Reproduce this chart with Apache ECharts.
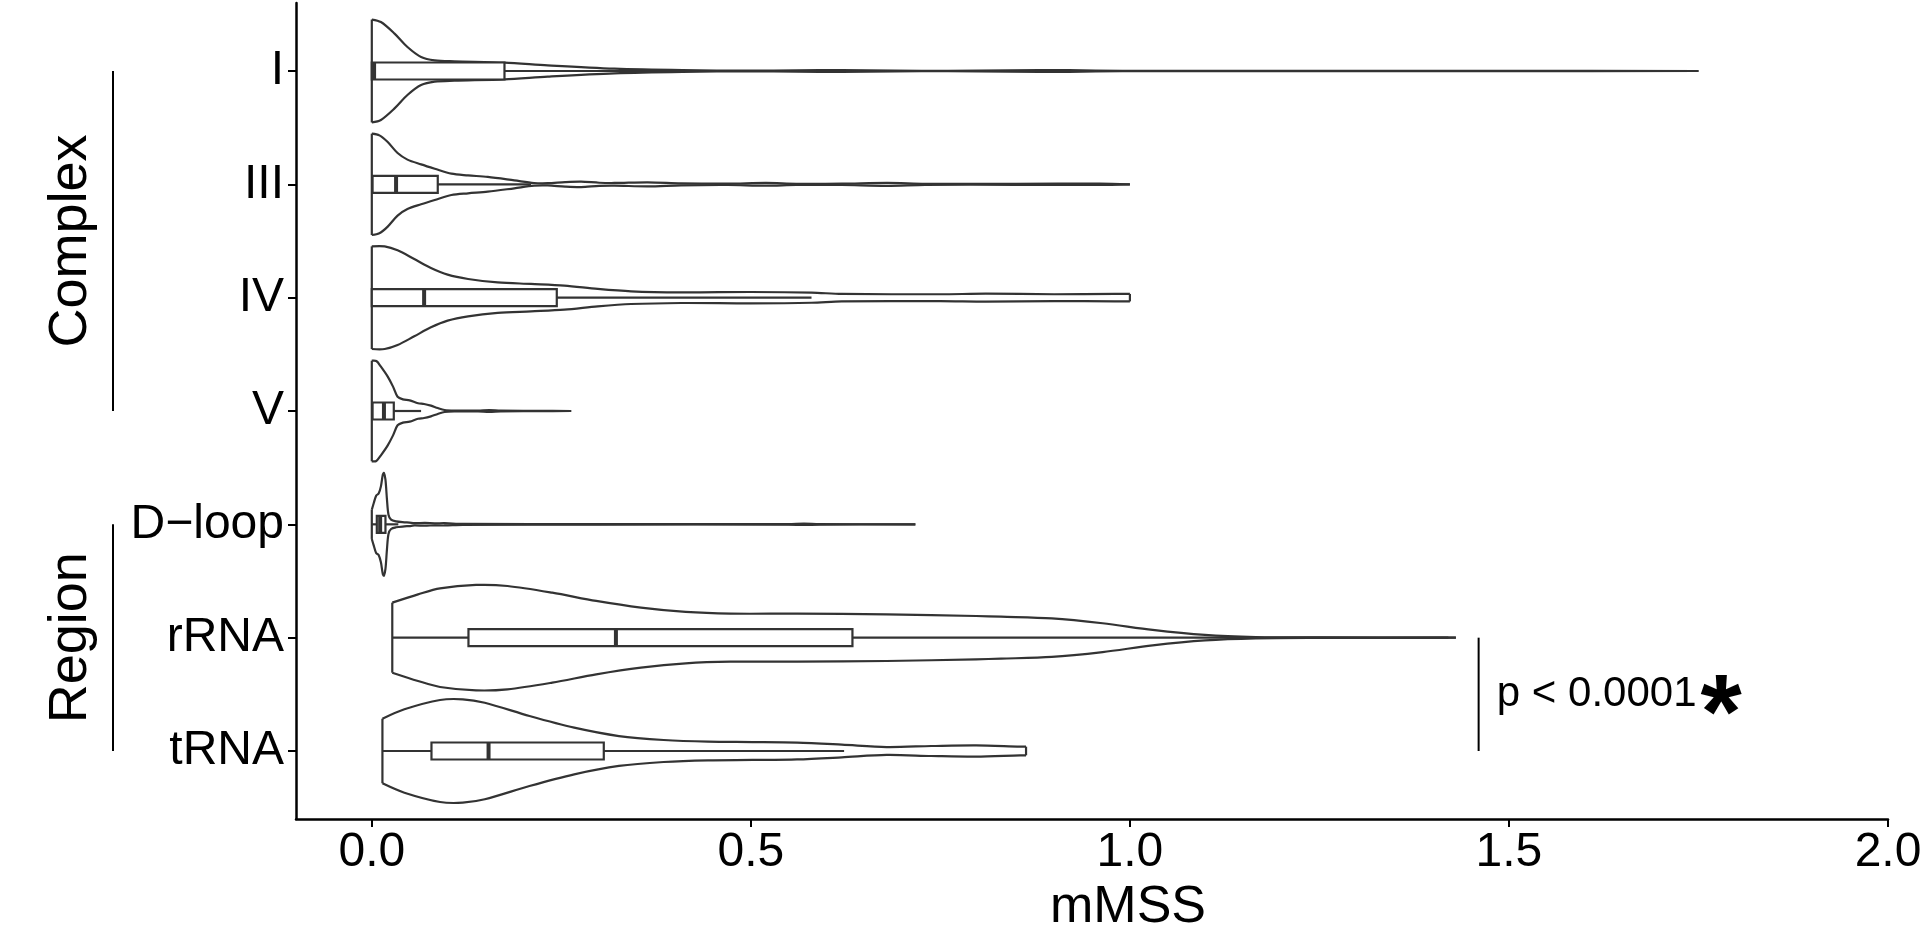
<!DOCTYPE html>
<html><head><meta charset="utf-8">
<script src="https://cdn.jsdelivr.net/npm/echarts@6/dist/echarts.min.js"></script>
<style>html,body{margin:0;padding:0;background:#fff}#main{width:1928px;height:929px}</style>
</head><body><div id="main"></div>
<script>
// ---------- data ----------
const categories = ['I', 'III', 'IV', 'V', 'D\u2212loop', 'rRNA', 'tRNA'];
const xTicks = [0, 0.5, 1, 1.5, 2];

// boxplot statistics per category (same order as categories)
const boxMin    = [0.000, 0.000, 0.000, 0.000, 0.000, 0.027, 0.014];
const boxQ1     = [0.000, 0.001, 0.000, 0.001, 0.0066, 0.1275, 0.0787];
const boxMedian = [0.003, 0.032, 0.069, 0.016, 0.011, 0.322, 0.154];
const boxQ3     = [0.175, 0.087, 0.244, 0.029, 0.018, 0.634, 0.306];
const boxMax    = [0.430, 0.210, 0.580, 0.065, 0.035, 1.420, 0.623];

// violin profiles: [mMSS value, half width in category units]
const violinI = [[0.000,0.454],[0.012,0.432],[0.030,0.330],[0.047,0.212],[0.065,0.124],[0.083,0.094],[0.109,0.086],[0.175,0.074],[0.232,0.050],[0.320,0.021],[0.410,0.008],[0.500,0.003],[0.560,0.006],[0.620,0.007],[0.690,0.003],[0.760,0.002],[0.840,0.006],[0.920,0.007],[0.990,0.002],[1.200,0.0015],[1.500,0.001],[1.750,0.000]];
const violinIII = [[0.000,0.447],[0.010,0.432],[0.021,0.373],[0.034,0.276],[0.047,0.218],[0.065,0.176],[0.083,0.138],[0.105,0.094],[0.127,0.079],[0.153,0.065],[0.188,0.035],[0.214,0.012],[0.232,0.010],[0.255,0.020],[0.276,0.024],[0.300,0.014],[0.320,0.012],[0.364,0.018],[0.408,0.009],[0.470,0.006],[0.520,0.012],[0.560,0.005],[0.620,0.006],[0.680,0.013],[0.730,0.005],[0.850,0.004],[0.960,0.006],[1.000,0.000]];
const violinIV = [[0.000,0.453],[0.017,0.453],[0.034,0.418],[0.056,0.341],[0.078,0.262],[0.100,0.203],[0.127,0.165],[0.166,0.135],[0.210,0.121],[0.254,0.106],[0.298,0.077],[0.342,0.056],[0.408,0.047],[0.500,0.050],[0.580,0.045],[0.620,0.033],[0.750,0.030],[0.810,0.035],[0.900,0.030],[0.980,0.033],[1.000,0.033]];
const violinV = [[0.000,0.444],[0.006,0.441],[0.012,0.391],[0.021,0.303],[0.028,0.215],[0.034,0.126],[0.041,0.103],[0.050,0.094],[0.061,0.068],[0.069,0.062],[0.078,0.047],[0.087,0.026],[0.096,0.009],[0.109,0.004],[0.140,0.003],[0.155,0.008],[0.170,0.003],[0.220,0.002],[0.263,0.000]];
const violinDloop = [[0.000,0.129],[0.0026,0.188],[0.0057,0.253],[0.009,0.271],[0.012,0.335],[0.0145,0.438],[0.016,0.453],[0.018,0.394],[0.020,0.218],[0.022,0.085],[0.0254,0.041],[0.032,0.026],[0.043,0.018],[0.0496,0.015],[0.056,0.010],[0.070,0.012],[0.083,0.009],[0.096,0.010],[0.120,0.004],[0.300,0.002],[0.550,0.002],[0.570,0.006],[0.590,0.002],[0.717,0.000]];
const violinRRNA = [[0.027,0.309],[0.061,0.382],[0.090,0.435],[0.1375,0.465],[0.179,0.456],[0.238,0.397],[0.296,0.324],[0.355,0.265],[0.414,0.227],[0.473,0.212],[0.561,0.212],[0.679,0.206],[0.797,0.191],[0.830,0.185],[0.897,0.170],[0.964,0.127],[1.030,0.068],[1.099,0.024],[1.166,0.006],[1.250,0.002],[1.430,0.000]];
const violinTRNA = [[0.014,0.285],[0.043,0.368],[0.090,0.450],[0.120,0.456],[0.149,0.426],[0.208,0.309],[0.267,0.206],[0.326,0.132],[0.385,0.097],[0.4435,0.082],[0.502,0.079],[0.561,0.074],[0.620,0.056],[0.679,0.035],[0.738,0.044],[0.797,0.050],[0.855,0.038],[0.863,0.038]];
const violinProfiles = [violinI, violinIII, violinIV, violinV, violinDloop, violinRRNA, violinTRNA];

// group brackets on the left
const groupNames = ['Complex', 'Region'];
const groupFrom = [0, 4];
const groupTo = [3, 6];

// significance annotation
const pBracketX = 1.46;
const pBracketFrom = 5;
const pBracketTo = 6;
const pText = 'p < 0.0001';
const pTextX = 1.484;
const starX = 1.78;

// ---------- styles ----------
const FONT = "'Liberation Sans', Arial, Helvetica, sans-serif";
const INK = '#333333';
const BOX_HALF = 0.075;
const LW = 2.2;

function renderViolin(params, api) {
  const i = params.dataIndex;
  const prof = violinProfiles[i];
  const up = prof.map(p => api.coord([p[0], i - p[1]]));
  const lo = prof.map(p => api.coord([p[0], i + p[1]]));
  const children = [];
  children.push({type: 'polygon', shape: {points: up.concat(lo.slice().reverse())},
    style: {fill: '#fff', stroke: null}});
  children.push({type: 'polyline', shape: {points: up, smooth: 0.3},
    style: {stroke: INK, lineWidth: LW, fill: null}});
  children.push({type: 'polyline', shape: {points: lo, smooth: 0.3},
    style: {stroke: INK, lineWidth: LW, fill: null}});
  children.push({type: 'line', shape: {x1: up[0][0], y1: up[0][1], x2: lo[0][0], y2: lo[0][1]},
    style: {stroke: INK, lineWidth: LW}});
  const n = prof.length - 1;
  if (prof[n][1] > 0) {
    children.push({type: 'line', shape: {x1: up[n][0], y1: up[n][1], x2: lo[n][0], y2: lo[n][1]},
      style: {stroke: INK, lineWidth: LW}});
  }
  const c = api.coord([0, i])[1];
  const yT = api.coord([0, i - BOX_HALF])[1];
  const yB = api.coord([0, i + BOX_HALF])[1];
  const xMin = api.coord([boxMin[i], i])[0];
  const xQ1 = api.coord([boxQ1[i], i])[0];
  const xMed = api.coord([boxMedian[i], i])[0];
  const xQ3 = api.coord([boxQ3[i], i])[0];
  const xMax = api.coord([boxMax[i], i])[0];
  children.push({type: 'line', shape: {x1: xMin, y1: c, x2: xQ1, y2: c}, style: {stroke: INK, lineWidth: LW}});
  children.push({type: 'line', shape: {x1: xQ3, y1: c, x2: xMax, y2: c}, style: {stroke: INK, lineWidth: LW}});
  children.push({type: 'rect', shape: {x: xQ1, y: yT, width: Math.max(xQ3 - xQ1, 1), height: yB - yT},
    style: {fill: '#fff', stroke: INK, lineWidth: LW}});
  children.push({type: 'line', shape: {x1: xMed, y1: yT, x2: xMed, y2: yB}, style: {stroke: INK, lineWidth: 4}});
  return {type: 'group', children};
}

function renderGroup(params, api) {
  const g = params.dataIndex;
  const axisX = api.coord([-0.1, 0])[0];
  const y1 = api.coord([-0.1, groupFrom[g]])[1];
  const y2 = api.coord([-0.1, groupTo[g]])[1];
  return {type: 'group', children: [
    {type: 'line', shape: {x1: axisX - 183, y1: y1, x2: axisX - 183, y2: y2}, style: {stroke: '#000', lineWidth: 2}},
    {type: 'text', x: axisX - 225, y: (y1 + y2) / 2, rotation: Math.PI / 2,
      style: {text: groupNames[g], fontSize: 54, fontFamily: FONT, fill: '#000', align: 'center', verticalAlign: 'middle'}}
  ]};
}

function renderP(params, api) {
  const a = api.coord([pBracketX, pBracketFrom]);
  const b = api.coord([pBracketX, pBracketTo]);
  const mid = api.coord([pTextX, (pBracketFrom + pBracketTo) / 2]);
  const st = api.coord([starX, (pBracketFrom + pBracketTo) / 2]);
  return {type: 'group', children: [
    {type: 'line', shape: {x1: a[0], y1: a[1], x2: b[0], y2: b[1]}, style: {stroke: '#000', lineWidth: 2}},
    {type: 'text', x: mid[0], y: mid[1], style: {text: pText, fontSize: 42, fontFamily: FONT, fill: '#000', align: 'left', verticalAlign: 'middle'}},
    {type: 'text', x: st[0], y: st[1] + 24, style: {text: '*', fontSize: 106, fontWeight: 'bold', fontFamily: FONT, fill: '#000', align: 'center', verticalAlign: 'middle'}}
  ]};
}

const chart = echarts.init(document.getElementById('main'), null, {renderer: 'canvas'});
chart.setOption({
  backgroundColor: '#fff',
  animation: false,
  grid: {left: 296, right: 40, top: 3, bottom: 110, containLabel: false, outerBoundsMode: 'none'},
  xAxis: {
    type: 'value', min: -0.1, max: 2.0,
    name: 'mMSS', nameLocation: 'middle', nameGap: 62,
    nameTextStyle: {fontSize: 52, fontFamily: FONT, color: '#000', padding: [0, 0, 0, 72]},
    axisLine: {show: true, onZero: false, lineStyle: {color: '#000', width: 2.5}},
    axisTick: {show: true, length: 8, customValues: xTicks, lineStyle: {color: '#000', width: 2}},
    axisLabel: {customValues: xTicks, fontSize: 48, fontFamily: FONT, color: '#000', margin: 10,
      formatter: v => Number(v).toFixed(1)},
    splitLine: {show: false}
  },
  yAxis: {
    type: 'value', min: -0.6, max: 6.6, inverse: true,
    axisLine: {show: true, onZero: false, lineStyle: {color: '#000', width: 2.5}},
    axisTick: {show: true, length: 8, customValues: categories.map((c, i) => i), lineStyle: {color: '#000', width: 2}},
    axisLabel: {customValues: categories.map((c, i) => i), fontSize: 48, fontFamily: FONT, color: '#000', margin: 12,
      formatter: v => categories[Math.round(v)]},
    splitLine: {show: false}
  },
  series: [
    {type: 'custom', renderItem: renderViolin, data: categories.map((c, i) => [0, i]), clip: false, silent: true},
    {type: 'custom', renderItem: renderGroup, data: groupNames.map((g, i) => [0, i]), clip: false, silent: true},
    {type: 'custom', renderItem: renderP, data: [[pBracketX, pBracketFrom]], clip: false, silent: true}
  ]
});
</script></body></html>
